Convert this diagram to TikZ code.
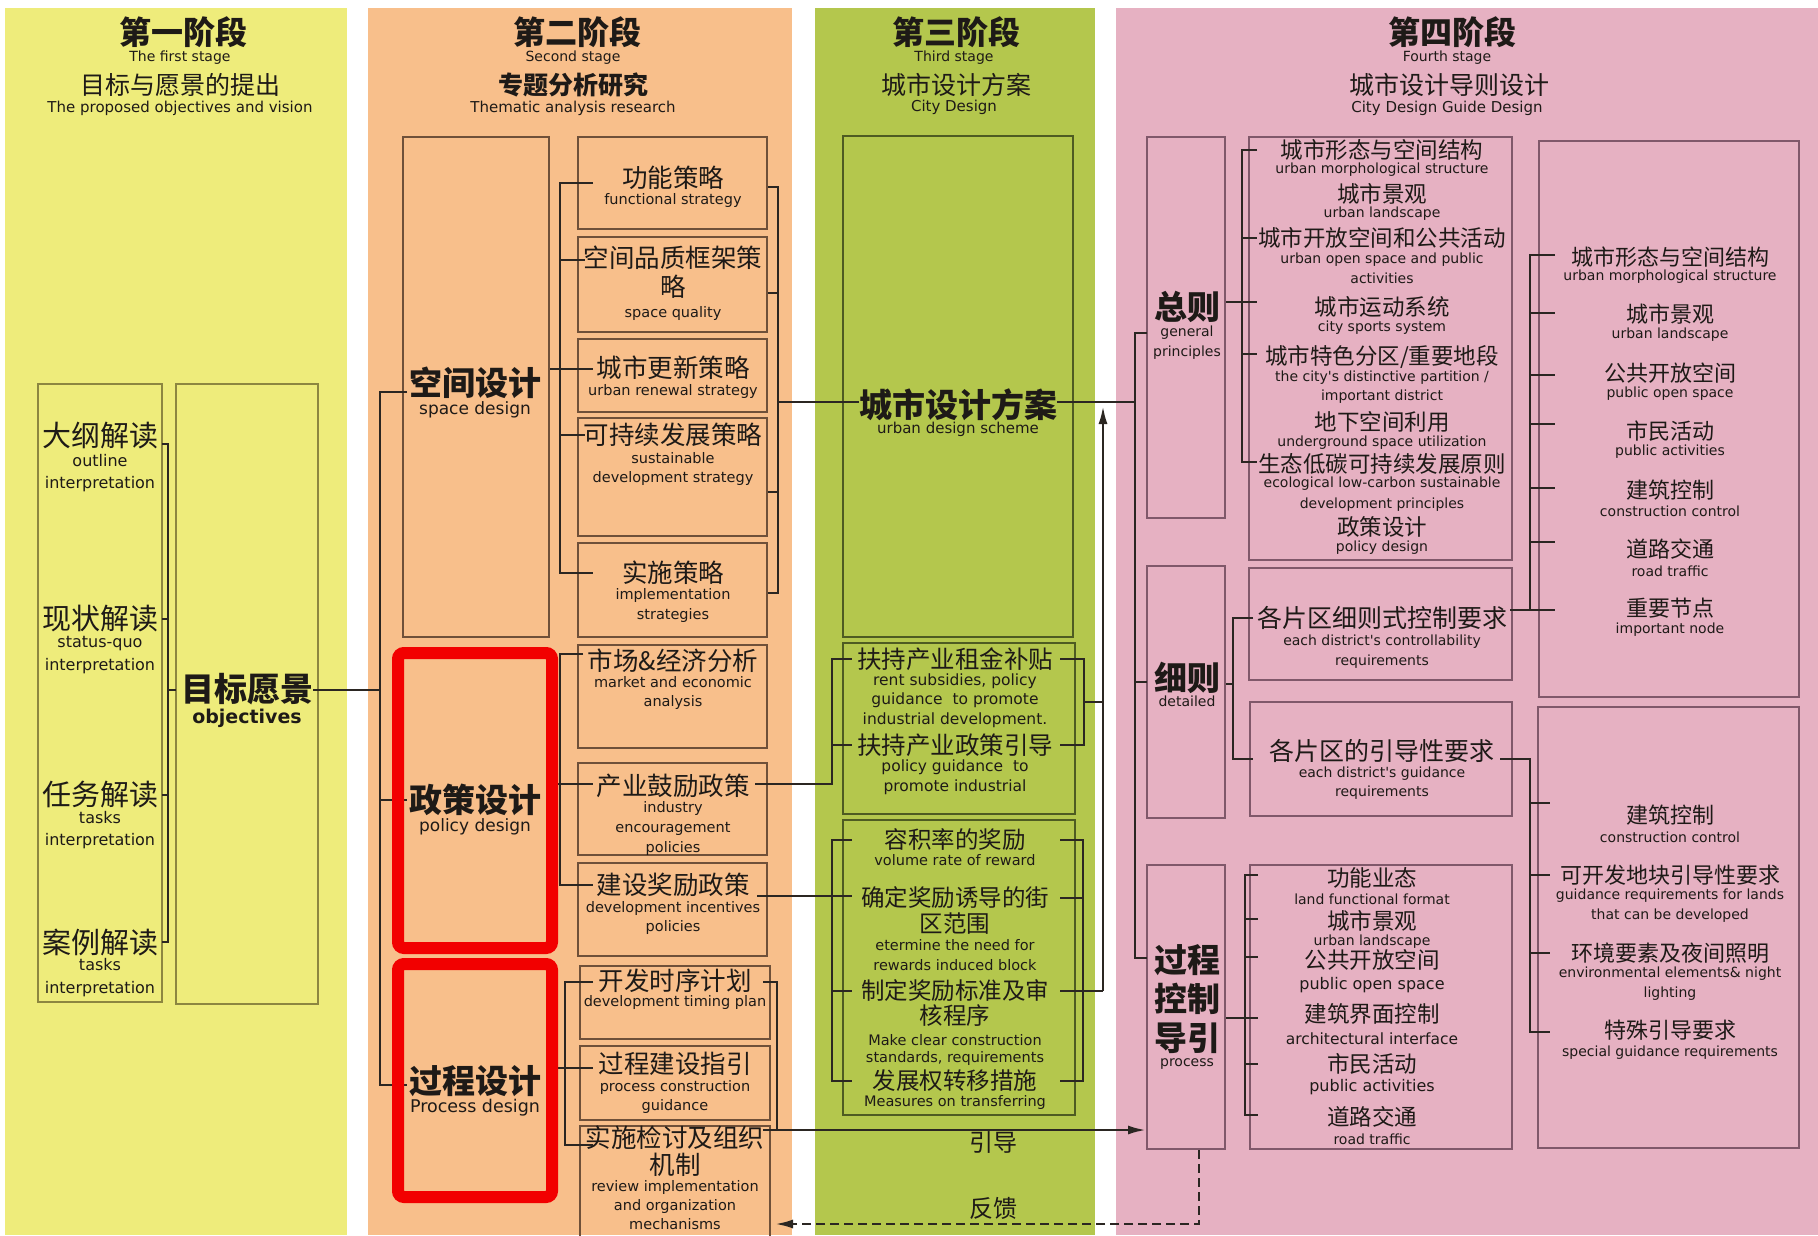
\documentclass[tikz,border=0pt]{standalone}
\usepackage{fontspec}
\setmainfont{Noto Sans CJK SC}
\newfontfamily\enf{DejaVu Sans}
\usetikzlibrary{fit,arrows.meta}
\definecolor{yel}{HTML}{EEEC7B}
\definecolor{ora}{HTML}{F8BF8B}
\definecolor{grn}{HTML}{B4C74D}
\definecolor{pnk}{HTML}{E6B1C2}
\definecolor{bxa}{HTML}{8C8640}
\definecolor{bxb}{HTML}{6F5039}
\definecolor{bxc}{HTML}{4E5B22}
\definecolor{bxd}{HTML}{80586A}
\definecolor{lin}{HTML}{2B2622}
\definecolor{txt}{HTML}{1E1A17}
\definecolor{redf}{HTML}{F20000}
\newcommand\fs[1]{\fontsize{#1}{#1}\selectfont}
\newcommand\ZH[4]{\node[tx,font=\fs{#2}] (#1) at (#3) {#4};}
\newcommand\ZB[4]{\node[tx,font=\bfseries\fs{#2}] (#1) at (#3) {#4};}
\newcommand\EN[4]{\node[tx,font=\enf\fs{#2}] (#1) at (#3) {#4};}
\newcommand\BX[6]{\node[box,draw=#2,fit={(#3,#4) (#5,#6)}] (#1) {};}
\tikzset{
  tx/.style={inner sep=0pt,text=txt},
  box/.style={inner sep=0pt,line width=2pt},
  panel/.style={inner sep=0pt,draw=none},
  cn/.style={draw=lin,line width=2.5pt},
  redbox/.style={draw=redf,line width=12pt,rounded corners=6pt,inner sep=0pt},
  tip/.style={-{Latex[length=18pt,width=9pt]}}
}
\begin{document}
\begin{tikzpicture}[x=1pt,y=-1pt]
\useasboundingbox (0,0) rectangle (1818,1235);
\fill[white] (0,0) rectangle (1818,1235);
% panels
\node[panel,fill=yel,fit={(5,8) (347,1235)}] (P1) {};
\node[panel,fill=ora,fit={(368,8) (792,1235)}] (P2) {};
\node[panel,fill=grn,fit={(815,8) (1095,1235)}] (P3) {};
\node[panel,fill=pnk,fit={(1116,8) (1818,1235)}] (P4) {};

% headers
\ZB{h1a}{32}{183,32}{第一阶段}
\EN{h1b}{14}{180,58}{The first stage}
\ZH{h1c}{25}{180,85}{目标与愿景的提出}
\EN{h1d}{15}{180,108}{The proposed objectives and vision}
\ZB{h2a}{32}{577,32}{第二阶段}
\EN{h2b}{14}{573,58}{Second stage}
\ZB{h2c}{25}{573,85}{专题分析研究}
\EN{h2d}{15}{573,108}{Thematic analysis research}
\ZB{h3a}{32}{956,32}{第三阶段}
\EN{h3b}{14}{954,58}{Third stage}
\ZH{h3c}{25}{956,85}{城市设计方案}
\EN{h3d}{15}{954,107}{City Design}
\ZB{h4a}{32}{1452,32}{第四阶段}
\EN{h4b}{14}{1447,58}{Fourth stage}
\ZH{h4c}{25}{1449,85}{城市设计导则设计}
\EN{h4d}{15}{1447,108}{City Design Guide Design}

% ---------- stage 1
\BX{A}{bxa}{38}{384}{162}{1002}
\BX{B}{bxa}{176}{384}{318}{1004}
\ZH{a1}{29}{100,436}{大纲解读}
\EN{a1e}{16}{100,461}{outline}
\EN{a1f}{16}{100,484}{interpretation}
\ZH{a2}{29}{100,619}{现状解读}
\EN{a2e}{16}{100,644}{status-quo}
\EN{a2f}{16}{100,666}{interpretation}
\ZH{a3}{29}{100,795}{任务解读}
\EN{a3e}{16}{100,818}{tasks}
\EN{a3f}{16}{100,841}{interpretation}
\ZH{a4}{29}{100,942}{案例解读}
\EN{a4e}{16}{100,965}{tasks}
\EN{a4f}{16}{100,989}{interpretation}
\ZB{gm}{33}{247,689}{目标愿景}
\node[tx,font=\enf\bfseries\fs{19}] (gme) at (247,718) {objectives};
\draw[cn] (162,444) -- (168,444) -- (168,942) -- (162,942);
\draw[cn] (162,619) -- (168,619);
\draw[cn] (162,795) -- (168,795);
\draw[cn] (168,690) -- (176,690);
\coordinate (T2a) at (380,392);
\coordinate (T2b) at (380,1085);
\draw[cn] (gm.east |- 0,690) -- (380,690);

% ---------- stage 2
\BX{S}{bxb}{403}{137}{549}{637}
\ZB{sd}{33}{475,383}{空间设计}
\EN{sde}{17}{475,410}{space design}
\BX{b1}{bxb}{578}{137}{767}{229}
\BX{b2}{bxb}{578}{237}{767}{332}
\BX{b3}{bxb}{578}{339}{767}{412}
\BX{b4}{bxb}{578}{418}{767}{536}
\BX{b5}{bxb}{578}{543}{767}{637}
\ZH{b1a}{25.5}{673,178}{功能策略}
\EN{b1b}{14.5}{673,200}{functional strategy}
\ZH{b2a}{25.5}{673,258}{空间品质框架策}
\ZH{b2b}{25.5}{673,287}{略}
\EN{b2c}{14.5}{673,313}{space quality}
\ZH{b3a}{25.5}{673,368}{城市更新策略}
\EN{b3b}{14.5}{673,391}{urban renewal strategy}
\ZH{b4a}{25.5}{673,435}{可持续发展策略}
\EN{b4b}{14.5}{673,458}{sustainable}
\EN{b4c}{14.5}{673,478}{development strategy}
\ZH{b5a}{25.5}{673,573}{实施策略}
\EN{b5b}{14.5}{673,595}{implementation}
\EN{b5c}{14.5}{673,615}{strategies}
\ZB{pd}{33}{475,800}{政策设计}
\EN{pde}{17}{475,827}{policy design}
\ZB{prd}{33}{475,1081}{过程设计}
\EN{prde}{17.5}{475,1108}{Process design}
\BX{p1}{bxb}{578}{645}{767}{748}
\BX{p2}{bxb}{578}{763}{767}{855}
\BX{p3}{bxb}{578}{863}{767}{956}
\ZH{p1a}{25.5}{673,661}{市场\&经济分析}
\EN{p1b}{14.5}{673,682}{market and economic}
\EN{p1c}{14.5}{673,702}{analysis}
\ZH{p2a}{25.5}{673,786}{产业鼓励政策}
\EN{p2b}{14.5}{673,808}{industry}
\EN{p2c}{14.5}{673,829}{encouragement}
\EN{p2d}{14.5}{673,848}{policies}
\ZH{p3a}{25.5}{673,885}{建设奖励政策}
\EN{p3b}{14.5}{673,908}{development incentives}
\EN{p3c}{14.5}{673,927}{policies}
\BX{q1}{bxb}{580}{966}{770}{1039}
\BX{q2}{bxb}{580}{1046}{770}{1120}
\BX{q3}{bxb}{580}{1126}{770}{1245}
\ZH{q1a}{25.5}{675,981}{开发时序计划}
\EN{q1b}{14.5}{675,1002}{development timing plan}
\ZH{q2a}{25.5}{675,1064}{过程建设指引}
\EN{q2b}{14.5}{675,1087}{process construction}
\EN{q2c}{14.5}{675,1106}{guidance}
\ZH{q3a}{25.5}{675,1138}{实施检讨及组织}
\ZH{q3b}{25.5}{675,1165}{机制}
\EN{q3c}{14.5}{675,1187}{review implementation}
\EN{q3d}{14.5}{675,1206}{and organization}
\EN{q3e}{14.5}{675,1224}{mechanisms}
% stage 2 trunk
\draw[cn] (407,392) -- (T2a) -- (T2b) -- (407,1085);
\draw[cn] (380,800) -- (407,800);
% space brackets
\draw[cn] (593,183) -- (560,183) -- (560,573) -- (593,573);
\draw[cn] (560,260) -- (585,260);
\draw[cn] (S.east |- 0,369) -- (593,369);
\draw[cn] (560,435) -- (585,435);
\draw[cn] (768,187) -- (778,187) -- (778,593) -- (768,593);
\draw[cn] (768,293) -- (778,293);
\draw[cn] (768,492) -- (778,492);
% policy brackets
\draw[cn] (583,654) -- (560,654) -- (560,885) -- (593,885);
\draw[cn] (556,784) -- (593,784);
% process brackets
\draw[cn] (593,982) -- (565,982) -- (565,1145) -- (593,1145);
\draw[cn] (556,1068) -- (593,1068);
\draw[cn] (763,982) -- (777,982) -- (777,1130);
\draw[cn] (763,1130) -- (777,1130);

% ---------- stage 3
\BX{C1}{bxc}{843}{136}{1073}{637}
\BX{C2}{bxc}{843}{643}{1075}{814}
\BX{C3}{bxc}{843}{820}{1075}{1115}
\ZB{cm}{33}{958,405}{城市设计方案}
\EN{cme}{15}{958,429}{urban design scheme}
\ZH{c2a}{24.5}{955,659}{扶持产业租金补贴}
\EN{c2b}{15.5}{955,681}{rent subsidies, policy}
\EN{c2c}{15.5}{955,700}{guidance\ \ to promote}
\EN{c2d}{15.5}{955,720}{industrial development.}
\ZH{c2e}{24.5}{955,745}{扶持产业政策引导}
\EN{c2f}{15.5}{955,767}{policy guidance\ \ to}
\EN{c2g}{15.5}{955,787}{promote industrial}
\ZH{c3a}{23.5}{955,840}{容积率的奖励}
\EN{c3b}{14.5}{955,860}{volume rate of reward}
\ZH{c3c}{23.5}{955,898}{确定奖励诱导的街}
\ZH{c3d}{23.5}{955,924}{区范围}
\EN{c3e}{14.5}{955,945}{etermine the need for}
\EN{c3f}{14.5}{955,965}{rewards induced block}
\ZH{c3g}{23.5}{955,991}{制定奖励标准及审}
\ZH{c3h}{23.5}{955,1016}{核程序}
\EN{c3i}{14.5}{955,1040}{Make clear construction}
\EN{c3j}{14.5}{955,1058}{standards, requirements}
\ZH{c3k}{23.5}{955,1081}{发展权转移措施}
\EN{c3l}{14.5}{955,1102}{Measures on transferring}
\ZH{yd}{24}{993,1142}{引导}
\ZH{fk}{24}{993,1208}{反馈}
% stage 2 -> 3 connectors
\draw[cn] (778,402) -- (cm.west |- 0,402);
\draw[cn] (755,784) -- (832,784) -- (832,659) -- (852,659);
\draw[cn] (832,745) -- (852,745);
\draw[cn] (1060,659) -- (1084,659) -- (1084,745) -- (1060,745);
\draw[cn] (1084,702) -- (1103,702);
\draw[cn] (757,896) -- (852,896);
\draw[cn] (852,840) -- (832,840) -- (832,1081) -- (852,1081);
\draw[cn] (832,991) -- (852,991);
\draw[cn] (1060,840) -- (1083,840) -- (1083,1081) -- (1060,1081);
\draw[cn] (1060,898) -- (1083,898);
\draw[cn] (1060,991) -- (1103,991);
\draw[cn,tip] (1103,991) -- (1103,406);
\draw[cn] (cm.east |- 0,402) -- (1135,402);

% ---------- stage 4
\BX{D1}{bxd}{1147}{137}{1225}{518}
\BX{D2}{bxd}{1249}{137}{1512}{560}
\BX{E1}{bxd}{1147}{566}{1225}{818}
\BX{E2}{bxd}{1249}{568}{1512}{680}
\BX{E3}{bxd}{1250}{702}{1512}{816}
\BX{F1}{bxd}{1147}{865}{1225}{1149}
\BX{F2}{bxd}{1250}{865}{1512}{1149}
\BX{G1}{bxd}{1539}{141}{1799}{697}
\BX{G2}{bxd}{1538}{707}{1799}{1148}
\ZB{d1a}{33}{1187,307}{总则}
\EN{d1b}{14}{1187,333}{general}
\EN{d1c}{14}{1187,353}{principles}
\ZH{d2a}{22.5}{1382,150}{城市形态与空间结构}
\EN{d2b}{14}{1382,170}{urban morphological structure}
\ZH{d2c}{22.5}{1382,194}{城市景观}
\EN{d2d}{14}{1382,214}{urban landscape}
\ZH{d2e}{22.5}{1382,238}{城市开放空间和公共活动}
\EN{d2f}{14}{1382,260}{urban open space and public}
\EN{d2g}{14}{1382,278}{activities}
\ZH{d2h}{22.5}{1382,307}{城市运动系统}
\EN{d2i}{14}{1382,328}{city sports system}
\ZH{d2j}{22.5}{1382,357}{城市特色分区/重要地段}
\EN{d2k}{14}{1382,378}{the city's distinctive partition /}
\EN{d2l}{14}{1382,397}{important district}
\ZH{d2m}{22.5}{1382,422}{地下空间利用}
\EN{d2n}{14}{1382,443}{underground space utilization}
\ZH{d2o}{22.5}{1382,464}{生态低碳可持续发展原则}
\EN{d2p}{14}{1382,484}{ecological low-carbon sustainable}
\EN{d2q}{14}{1382,505}{development principles}
\ZH{d2r}{22.5}{1382,527}{政策设计}
\EN{d2s}{14}{1382,548}{policy design}
\ZB{e1a}{33}{1187,678}{细则}
\EN{e1b}{14}{1187,701}{detailed}
\ZH{e2a}{25}{1382,618}{各片区细则式控制要求}
\EN{e2b}{14}{1382,642}{each district's controllability}
\EN{e2c}{14}{1382,662}{requirements}
\ZH{e3a}{25}{1382,751}{各片区的引导性要求}
\EN{e3b}{14}{1382,774}{each district's guidance}
\EN{e3c}{14}{1382,793}{requirements}
\ZB{f1a}{33}{1187,960}{过程}
\ZB{f1b}{33}{1187,999}{控制}
\ZB{f1c}{33}{1187,1038}{导引}
\EN{f1d}{14}{1187,1064}{process}
\ZH{f2a}{22.5}{1372,878}{功能业态}
\EN{f2b}{14}{1372,899}{land functional format}
\ZH{f2c}{22.5}{1372,921}{城市景观}
\EN{f2d}{14}{1372,942}{urban landscape}
\ZH{f2e}{22.5}{1372,960}{公共开放空间}
\EN{f2f}{16}{1372,985}{public open space}
\ZH{f2g}{22.5}{1372,1014}{建筑界面控制}
\EN{f2h}{15.5}{1372,1039}{architectural interface}
\ZH{f2i}{22.5}{1372,1064}{市民活动}
\EN{f2j}{16}{1372,1087}{public activities}
\ZH{f2k}{22.5}{1372,1117}{道路交通}
\EN{f2l}{14}{1372,1139}{road traffic}
\ZH{g1a}{22}{1670,257}{城市形态与空间结构}
\EN{g1b}{14}{1670,277}{urban morphological structure}
\ZH{g1c}{22}{1670,314}{城市景观}
\EN{g1d}{14}{1670,335}{urban landscape}
\ZH{g1e}{22}{1670,373}{公共开放空间}
\EN{g1f}{14}{1670,394}{public open space}
\ZH{g1g}{22}{1670,431}{市民活动}
\EN{g1h}{14}{1670,452}{public activities}
\ZH{g1i}{22}{1670,490}{建筑控制}
\EN{g1j}{14}{1670,511}{construction control}
\ZH{g1k}{22}{1670,549}{道路交通}
\EN{g1l}{14}{1670,571}{road traffic}
\ZH{g1m}{22}{1670,608}{重要节点}
\EN{g1n}{14}{1670,630}{important node}
\ZH{g2a}{22}{1670,815}{建筑控制}
\EN{g2b}{14}{1670,837}{construction control}
\ZH{g2c}{22}{1670,875}{可开发地块引导性要求}
\EN{g2d}{14}{1670,896}{guidance requirements for lands}
\EN{g2e}{14}{1670,916}{that can be developed}
\ZH{g2f}{22}{1670,953}{环境要素及夜间照明}
\EN{g2g}{14}{1670,974}{environmental elements\& night}
\EN{g2h}{14}{1670,994}{lighting}
\ZH{g2i}{22}{1670,1030}{特殊引导要求}
\EN{g2j}{14}{1670,1053}{special guidance requirements}
% stage 4 trunk
\draw[cn] (1147,333) -- (1135,333) -- (1135,958) -- (1147,958);
\draw[cn] (1135,682) -- (1147,682);
% general bracket
\draw[cn] (1257,150) -- (1242,150) -- (1242,462) -- (1257,462);
\draw[cn] (1242,238) -- (1257,238);
\draw[cn] (D1.east |- 0,302) -- (1257,302);
\draw[cn] (1242,354) -- (1257,354);
% detailed bracket
\draw[cn] (E1.east |- 0,684) -- (1233,684);
\draw[cn] (1253,618) -- (1233,618) -- (1233,759) -- (1253,759);
% top right bracket
\draw[cn] (1555,255) -- (1530,255) -- (1530,610) -- (1555,610);
\foreach \yy in {313,375,424,488,542} \draw[cn] (1530,\yy) -- (1555,\yy);
\draw[cn] (1510,610) -- (1530,610);
% bottom right bracket
\draw[cn] (1500,759) -- (1530,759) -- (1530,1032) -- (1550,1032);
\foreach \yy in {803,875,953} \draw[cn] (1530,\yy) -- (1550,\yy);
% process bracket
\draw[cn] (1258,875) -- (1245,875) -- (1245,1115) -- (1258,1115);
\foreach \yy in {919,957,1064} \draw[cn] (1245,\yy) -- (1258,\yy);
\draw[cn] (F1.east |- 0,1018) -- (1258,1018);
% guide arrow and feedback
\draw[cn,tip] (777,1130) -- (F1.west |- 0,1130);
\draw[cn,dashed,dash pattern=on 9pt off 5pt,tip] (F1.south -| 1199,0) -- (1199,1224) -- (775,1224);

% red highlight frames
\node[redbox,fit={(398,653) (552,948)}] (R1) {};
\node[redbox,fit={(398,964) (552,1197)}] (R2) {};
\end{tikzpicture}
\end{document}
